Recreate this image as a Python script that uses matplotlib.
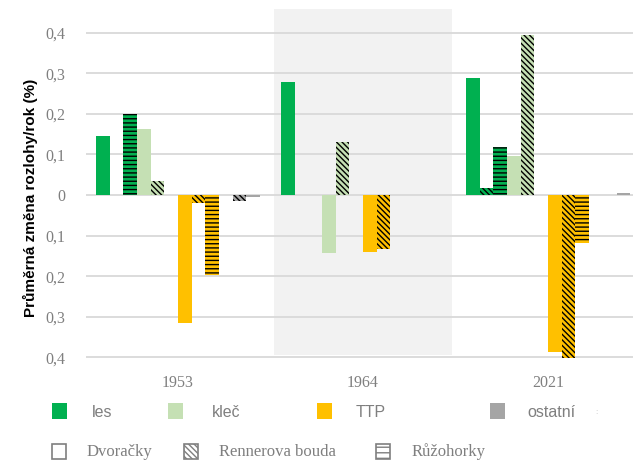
import matplotlib
matplotlib.use("Agg")
import matplotlib.pyplot as plt
from matplotlib.patches import Rectangle
from matplotlib.ticker import FuncFormatter
import numpy as np

years = ["1953", "1964", "2021"]
categories = ["les", "kleč", "TTP", "ostatní"]
cat_colors = ["#00b050", "#c5e0b4", "#ffc000", "#a5a5a5"]
locations = ["Dvoračky", "Rennerova bouda", "Růžohorky"]
loc_hatches = [None, "\\\\\\\\\\\\", "----"]

les_dvoracky = [0.145, 0.278, 0.287]
les_rennerova = [0.0, 0.0, 0.017]
les_ruzohorky = [0.199, 0.0, 0.117]
klec_dvoracky = [0.162, -0.144, 0.096]
klec_rennerova = [0.034, 0.130, 0.394]
klec_ruzohorky = [0.0, 0.0, 0.0]
ttp_dvoracky = [-0.314, -0.140, -0.386]
ttp_rennerova = [-0.020, -0.133, -0.402]
ttp_ruzohorky = [-0.197, 0.0, -0.119]
ostatni_dvoracky = [0.0, 0.0, 0.0]
ostatni_rennerova = [-0.016, 0.0, 0.0]
ostatni_ruzohorky = [-0.004, 0.0, 0.004]

series = [
    [les_dvoracky, les_rennerova, les_ruzohorky],
    [klec_dvoracky, klec_rennerova, klec_ruzohorky],
    [ttp_dvoracky, ttp_rennerova, ttp_ruzohorky],
    [ostatni_dvoracky, ostatni_rennerova, ostatni_ruzohorky],
]

plt.rcParams["hatch.color"] = "black"
plt.rcParams["hatch.linewidth"] = 1.0

W, H = 633, 461
fig = plt.figure(figsize=(W / 100, H / 100), dpi=100)
ax = fig.add_axes([86 / W, 1 - 361.5 / H, 1 - 86 / W, (361.5 - 8.2) / H])

gray = "#7f7f7f"
x = np.arange(len(years))
w = 0.074

# shaded band behind 1964
ax.add_patch(Rectangle((0.519, -0.394), 0.962, 0.852, facecolor="#f2f2f2",
                       edgecolor="none", zorder=0))

k = 0
for ci, cat in enumerate(categories):
    for li, loc in enumerate(locations):
        vals = series[ci][li]
        # tiny bars show only as a thin coloured line, no hatch
        hatch = loc_hatches[li] if ci < 3 or li == 1 else None
        ax.bar(x + (k - 5.5) * w, vals, width=w, color=cat_colors[ci],
               hatch=hatch, linewidth=0, zorder=3)
        k += 1

ax.set_xlim(-0.497, 2.459)
ax.set_ylim(-0.41, 0.46)
ax.set_yticks(np.arange(-0.4, 0.41, 0.1))
ax.yaxis.set_major_formatter(FuncFormatter(
    lambda v, p: "0" if abs(v) < 1e-9 else f"{abs(v):.1f}".replace(".", ",")))
ax.set_xticks(x)
ax.set_xticklabels(years)
ax.grid(axis="y", color="#d9d9d9", linewidth=1.3, zorder=1)
ax.set_axisbelow(False)
for s in ax.spines.values():
    s.set_visible(False)
ax.tick_params(length=0, colors=gray, labelsize=11.5)
ax.tick_params(axis="y", pad=15)
ax.tick_params(axis="x", pad=10)
for lab in ax.get_xticklabels() + ax.get_yticklabels():
    lab.set_fontfamily("Liberation Serif")
    lab.set_color(gray)
ax.patch.set_alpha(0)

fig.text(30 / W, 1 - 198 / H, "Průměrná změna rozlohy/rok (%)", rotation=90,
         ha="center", va="center", fontsize=11, fontweight="bold",
         family="Liberation Sans")


def fx(px):
    return px / W


def fy(py):
    return 1 - py / H


# legend row 1: land cover colours
sq1 = [52, 168, 317, 490]
tx1 = [92, 212, 356, 527]
for ci, cat in enumerate(categories):
    fig.add_artist(Rectangle((fx(sq1[ci]), fy(419)), 15 / W, 16 / H,
                             transform=fig.transFigure, facecolor=cat_colors[ci],
                             edgecolor="none"))
    fig.text(fx(tx1[ci]), fy(412), cat, ha="left", va="center", fontsize=11.5,
             color=gray, family="Liberation Sans")
fig.text(fx(595), fy(412), ":", ha="left", va="center", fontsize=6,
         color="#bfbfbf", family="Liberation Sans")

# legend row 2: locations
sq2 = [52, 184, 376]
tx2 = [87, 219, 412]
leg_hatches = [None, "\\\\\\\\\\\\", "---"]
for li, loc in enumerate(locations):
    fig.add_artist(Rectangle((fx(sq2[li]), fy(459)), 14 / W, 15 / H,
                             transform=fig.transFigure, facecolor="white",
                             edgecolor=gray, linewidth=1.2,
                             hatch=leg_hatches[li]))
    fig.text(fx(tx2[li]), fy(452), loc, ha="left", va="center", fontsize=12,
             color=gray, family="Liberation Serif")

fig.savefig("out.png", dpi=100)
